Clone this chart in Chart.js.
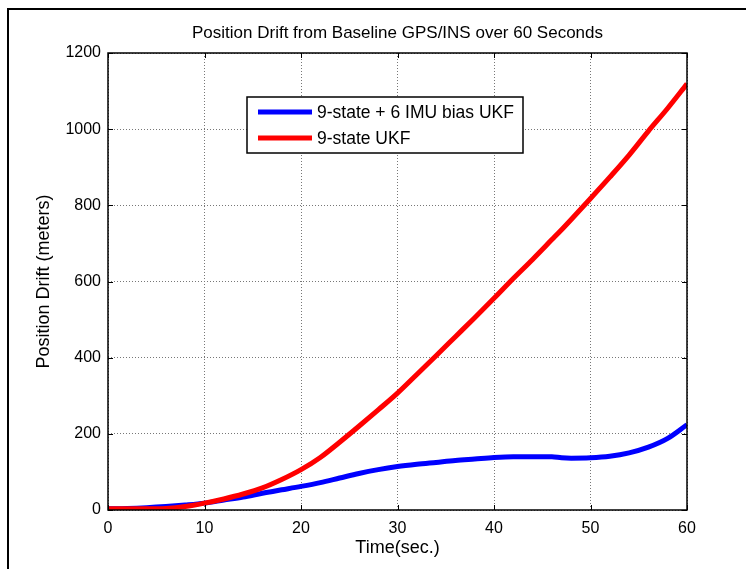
<!DOCTYPE html>
<html>
<head>
<meta charset="utf-8">
<script src="https://cdn.jsdelivr.net/npm/chart.js@4/dist/chart.umd.min.js"></script>
<style>
  html, body { margin: 0; padding: 0; background: #fff; }
  #wrap { width: 746px; height: 569px; position: relative; }
</style>
</head>
<body>
<div id="wrap"><canvas id="myChart" width="746" height="569"></canvas></div>
<script>
// time axis (sec.)
const timeValues = [0, 2, 4, 6, 8, 10, 12, 14, 16, 18, 20, 22, 24, 26, 28, 30, 32, 34, 36, 38, 40, 42, 44, 46, 47, 48, 50, 52, 54, 56, 58, 60];

// drift in meters
const biasUkf = [3, 4, 6, 9, 13, 18, 26, 34, 44, 53, 62, 72, 84, 96, 106, 114, 120, 125, 130, 134, 138, 140, 140, 140, 137, 136, 137, 141, 150, 165, 188, 224];
const plainUkf = [3, 3, 3, 4, 9, 18, 29, 42, 58, 80, 106, 138, 178, 220, 263, 307, 356, 405, 455, 505, 556, 608, 658, 710, 736, 763, 818, 874, 932, 995, 1055, 1119];

const xTicks = [0, 10, 20, 30, 40, 50, 60];
const yTicks = [0, 200, 400, 600, 800, 1000, 1200];

const chartTitle = 'Position Drift from Baseline GPS/INS over 60 Seconds';
const seriesNames = ['9-state + 6 IMU bias UKF', '9-state UKF'];
const seriesColors = ['#0000ff', '#ff0000'];

const FONT = 'Arial, "Liberation Sans", Helvetica, sans-serif';

function toPoints(xs, ys) {
    return xs.map(function (x, i) { return { x: x, y: ys[i] }; });
}

// box, inward ticks, title, legend and the outer frame (MATLAB look)
const matlabFrame = {
    id: 'matlabFrame',
    afterDraw: function (chart) {
        const ctx = chart.ctx;
        const area = chart.chartArea;
        const xs = chart.scales.x, ys = chart.scales.y;

        ctx.save();
        // outer figure frame
        ctx.strokeStyle = '#000';
        ctx.lineWidth = 2;
        ctx.beginPath();
        ctx.moveTo(8, 569);
        ctx.lineTo(8, 9);
        ctx.lineTo(746, 9);
        ctx.stroke();

        // axes box
        ctx.lineWidth = 1.5;
        ctx.strokeRect(area.left, area.top, area.right - area.left, area.bottom - area.top);

        // inward ticks
        ctx.lineWidth = 1;
        ctx.beginPath();
        xTicks.forEach(function (v) {
            const px = Math.round(xs.getPixelForValue(v)) + 0.5;
            ctx.moveTo(px, area.bottom); ctx.lineTo(px, area.bottom - 5);
            ctx.moveTo(px, area.top); ctx.lineTo(px, area.top + 5);
        });
        yTicks.forEach(function (v) {
            const py = Math.round(ys.getPixelForValue(v)) + 0.5;
            ctx.moveTo(area.left, py); ctx.lineTo(area.left + 5, py);
            ctx.moveTo(area.right, py); ctx.lineTo(area.right - 5, py);
        });
        ctx.stroke();

        // title, centred over the axes
        ctx.fillStyle = '#000';
        ctx.font = '17px ' + FONT;
        ctx.textAlign = 'center';
        ctx.textBaseline = 'middle';
        ctx.fillText(chartTitle, (area.left + area.right) / 2, 33);

        // legend box
        const lx = 247, ly = 97, lw = 276, lh = 56;
        ctx.fillStyle = '#fff';
        ctx.fillRect(lx, ly, lw, lh);
        ctx.strokeStyle = '#000';
        ctx.lineWidth = 1.5;
        ctx.strokeRect(lx, ly, lw, lh);

        ctx.font = '17.5px ' + FONT;
        ctx.textAlign = 'left';
        const rows = [112, 138];
        seriesNames.forEach(function (name, i) {
            ctx.strokeStyle = seriesColors[i];
            ctx.lineWidth = 5;
            ctx.beginPath();
            ctx.moveTo(258, rows[i]);
            ctx.lineTo(312, rows[i]);
            ctx.stroke();
            ctx.fillStyle = '#000';
            ctx.fillText(name, 317, rows[i] + 1);
        });
        ctx.restore();
    }
};

new Chart('myChart', {
    type: 'line',
    data: {
        datasets: [
            {
                label: seriesNames[1],
                data: toPoints(timeValues, plainUkf),
                borderColor: seriesColors[1],
                borderWidth: 5,
                pointRadius: 0,
                cubicInterpolationMode: 'monotone',
                order: 1
            },
            {
                label: seriesNames[0],
                data: toPoints(timeValues, biasUkf),
                borderColor: seriesColors[0],
                borderWidth: 5,
                pointRadius: 0,
                cubicInterpolationMode: 'monotone',
                order: 2
            }
        ]
    },
    options: {
        responsive: false,
        animation: false,
        layout: { padding: { left: 0, right: 59, top: 53, bottom: 0 } },
        plugins: {
            legend: { display: false },
            tooltip: { enabled: false },
            title: { display: false }
        },
        scales: {
            x: {
                type: 'linear',
                min: 0,
                max: 60,
                afterFit: function (scale) { scale.height = 59; },
                afterBuildTicks: function (scale) {
                    scale.ticks = xTicks.map(function (v) { return { value: v }; });
                },
                grid: { color: '#777', lineWidth: 1, drawTicks: false },
                border: { display: false, dash: [1, 2] },
                ticks: {
                    color: '#000', padding: 9, font: { family: FONT, size: 16 },
                    callback: function (v) { return String(v); }
                },
                title: {
                    display: true,
                    text: 'Time(sec.)',
                    color: '#000',
                    font: { family: FONT, size: 18, lineHeight: 1.2 },
                    padding: { top: 0, bottom: 10 }
                }
            },
            y: {
                type: 'linear',
                min: 0,
                max: 1200,
                afterFit: function (scale) { scale.width = 108; },
                afterBuildTicks: function (scale) {
                    scale.ticks = yTicks.map(function (v) { return { value: v }; });
                },
                grid: { color: '#777', lineWidth: 1, drawTicks: false },
                border: { display: false, dash: [1, 2] },
                ticks: {
                    color: '#000', padding: 7, font: { family: FONT, size: 16 },
                    callback: function (v) { return String(v); }
                },
                title: {
                    display: true,
                    text: 'Position Drift (meters)',
                    color: '#000',
                    font: { family: FONT, size: 18, lineHeight: 1.2 },
                    padding: { top: 33, bottom: 0 }
                }
            }
        }
    },
    plugins: [matlabFrame]
});
</script>
</body>
</html>
